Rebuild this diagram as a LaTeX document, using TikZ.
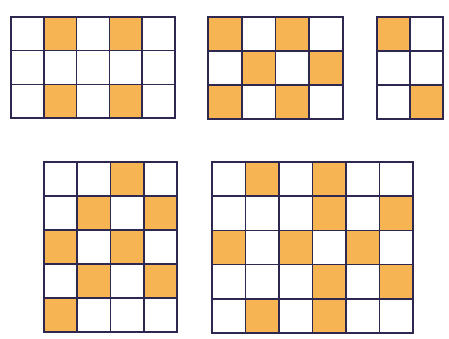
\documentclass[tikz,border=0pt]{standalone}
\definecolor{cellfill}{HTML}{F6B552}
\definecolor{gridline}{HTML}{2E2850}
\tikzset{
  shaded/.style={fill=cellfill, draw=none},
  gridlines/.style={draw=gridline, line width=1.6pt, line cap=rect},
}
\newcommand{\cellgrid}[2]{%
  \foreach \i in {0,...,#1} \draw[gridlines] (\i,0) -- (\i,#2);
  \foreach \j in {0,...,#2} \draw[gridlines] (0,\j) -- (#1,\j);
}
\begin{document}
\begin{tikzpicture}[x=1pt,y=-1pt]
\useasboundingbox[fill=white] (0,0) rectangle (449,339);
% grid 1: 5x3
\begin{scope}[shift={(11,17)}, xscale=32.8, yscale=33.7]
  \foreach \c/\r in {1/0,3/0,1/2,3/2} \fill[shaded] (\c,\r) rectangle ++(1,1);
  \cellgrid{5}{3}
\end{scope}
% grid 2: 4x3
\begin{scope}[shift={(208,17)}, xscale=33.75, yscale=34]
  \foreach \c/\r in {0/0,2/0,1/1,3/1,0/2,2/2} \fill[shaded] (\c,\r) rectangle ++(1,1);
  \cellgrid{4}{3}
\end{scope}
% grid 3: 2x3
\begin{scope}[shift={(377,17)}, xscale=33, yscale=34]
  \foreach \c/\r in {0/0,1/2} \fill[shaded] (\c,\r) rectangle ++(1,1);
  \cellgrid{2}{3}
\end{scope}
% grid 4: 4x5
\begin{scope}[shift={(44,162)}, xscale=33.25, yscale=34]
  \foreach \c/\r in {2/0,1/1,3/1,0/2,2/2,1/3,3/3,0/4} \fill[shaded] (\c,\r) rectangle ++(1,1);
  \cellgrid{4}{5}
\end{scope}
% grid 5: 6x5
\begin{scope}[shift={(212,162)}, xscale=33.5, yscale=34.2]
  \foreach \c/\r in {1/0,3/0,3/1,5/1,0/2,2/2,4/2,3/3,5/3,1/4,3/4} \fill[shaded] (\c,\r) rectangle ++(1,1);
  \cellgrid{6}{5}
\end{scope}
\end{tikzpicture}
\end{document}
